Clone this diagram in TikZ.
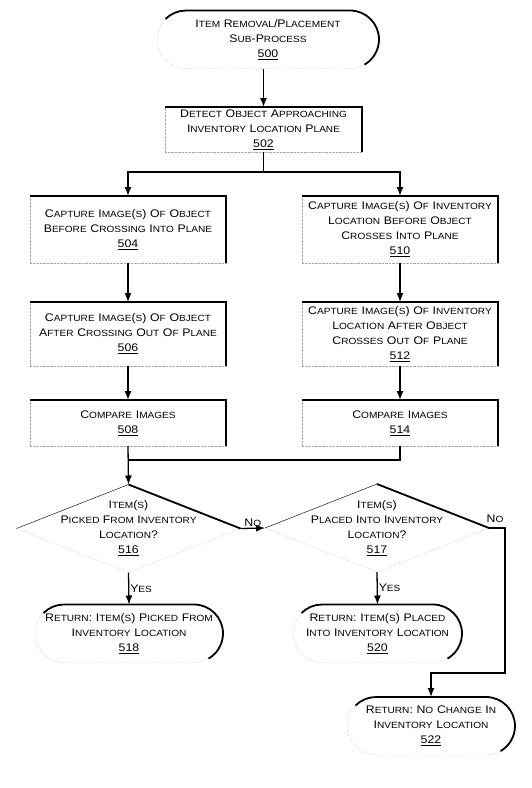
\documentclass[tikz,border=0pt]{standalone}
\usepackage{fontspec}
\setmainfont{Liberation Sans}[FakeStretch=1.12]
\usetikzlibrary{positioning}
\usetikzlibrary{shapes,arrows.meta,shapes.geometric,calc}
\tikzset{
    %Define standard arrow tip
    >={Latex[length=9pt,width=7pt]},
    % Define arrow style
    pil/.style={
           ->,
           color=black,
           line width=1.3pt,},
    % Define plain connector
    wire/.style={
           color=black,
           line width=1.3pt,},
    % Define shaded box edge
    heavyedge/.style={
           color=black,
           line width=1.8pt,}
}
\newcommand{\sm}[1]{{\fontsize{9pt}{15pt}\selectfont #1}}
\newcommand{\boxwidth}{196pt}
\newcommand{\termtop}[1]{\draw[heavyedge] ($(#1.north west)+(8.5pt,-8.5pt)$)
    arc[start angle=135,end angle=90,radius=29pt] -- ($(#1.north east)+(-29pt,0pt)$)
    arc[start angle=90,end angle=-60,radius=29pt];}

\begin{document}
\begin{tikzpicture}[x=1pt, y=1pt, node distance=0pt, outer sep=0pt,
    font=\fontsize{11pt}{15pt}\selectfont]
\tikzstyle{basicbox}=[draw=gray!70, densely dotted, thin, fill=white, rectangle,
    minimum width=\boxwidth, text width=192pt, inner sep=2pt, align=center]
%
\tikzstyle{termbox}=[draw=gray!70, densely dotted, thin, fill=white, rectangle,
    rounded corners=29pt, minimum height=58pt, inner sep=0pt, align=center]
%
\tikzstyle{decbox}=[draw=gray!70, densely dotted, thin, diamond,
    minimum width=224pt, minimum height=88pt, inner sep=0pt]
%
\tikzstyle{dectext}=[align=center, inner sep=0pt]
\tikzstyle{lbl}=[inner sep=1.5pt]

\useasboundingbox (0pt,0pt) rectangle (531pt,-788pt);

\node[termbox, minimum width=222pt, text width=210pt] (start) at (268pt,-39.5pt)
    {I\sm{TEM} R\sm{EMOVAL}/P\sm{LACEMENT}\\ S\sm{UB}-P\sm{ROCESS}\\ \underline{500}};
\node[basicbox, minimum width=197pt, minimum height=45pt] (detect) at (263.5pt,-129.5pt)
    {D\sm{ETECT} O\sm{BJECT} A\sm{PPROACHING}\\ I\sm{NVENTORY} L\sm{OCATION} P\sm{LANE}\\ \underline{502}};

\node[basicbox, minimum height=67pt] (cap504) at (128pt,-229.5pt)
    {C\sm{APTURE} I\sm{MAGE}(\sm{S}) O\sm{F} O\sm{BJECT}\\ B\sm{EFORE} C\sm{ROSSING} I\sm{NTO} P\sm{LANE}\\ \underline{504}};
\node[basicbox, minimum height=64pt] (cap506) at (128pt,-334pt)
    {C\sm{APTURE} I\sm{MAGE}(\sm{S}) O\sm{F} O\sm{BJECT}\\ A\sm{FTER} C\sm{ROSSING} O\sm{UT} O\sm{F} P\sm{LANE}\\ \underline{506}};
\node[basicbox, minimum height=46pt] (cmp508) at (128pt,-423pt)
    {C\sm{OMPARE} I\sm{MAGES}\\ \underline{508}};

\node[basicbox, minimum height=67pt] (cap510) at (400pt,-229.5pt)
    {C\sm{APTURE} I\sm{MAGE}(\sm{S}) O\sm{F} I\sm{NVENTORY}\\ L\sm{OCATION} B\sm{EFORE} O\sm{BJECT}\\ C\sm{ROSSES} I\sm{NTO} P\sm{LANE}\\ \underline{510}};
\node[basicbox, minimum height=64pt] (cap512) at (400pt,-334pt)
    {C\sm{APTURE} I\sm{MAGE}(\sm{S}) O\sm{F} I\sm{NVENTORY}\\ L\sm{OCATION} A\sm{FTER} O\sm{BJECT}\\ C\sm{ROSSES} O\sm{UT} O\sm{F} P\sm{LANE}\\ \underline{512}};
\node[basicbox, minimum height=46pt] (cmp514) at (400pt,-423pt)
    {C\sm{OMPARE} I\sm{MAGES}\\ \underline{514}};

\node[decbox] (dec516) at (128.5pt,-528.5pt) {};
\node[dectext] (q516) at (dec516.center)
    {I\sm{TEM}(\sm{S})\\ P\sm{ICKED} F\sm{ROM} I\sm{NVENTORY}\\ L\sm{OCATION}?\\ \underline{516}};
\node[decbox] (dec517) at (377pt,-528pt) {};
\node[dectext] (q517) at (dec517.center)
    {I\sm{TEM}(\sm{S})\\ P\sm{LACED} I\sm{NTO} I\sm{NVENTORY}\\ L\sm{OCATION}?\\ \underline{517}};

\node[termbox, minimum width=188pt, text width=186pt] (ret518) at (129pt,-633.5pt)
    {R\sm{ETURN}: I\sm{TEM}(\sm{S}) P\sm{ICKED} F\sm{ROM}\\ I\sm{NVENTORY} L\sm{OCATION}\\ \underline{518}};
\node[termbox, minimum width=169pt, text width=167pt] (ret520) at (377.5pt,-633.5pt)
    {R\sm{ETURN}: I\sm{TEM}(\sm{S}) P\sm{LACED}\\ I\sm{NTO} I\sm{NVENTORY} L\sm{OCATION}\\ \underline{520}};
\node[termbox, minimum width=168pt, text width=166pt] (ret522) at (431pt,-726pt)
    {R\sm{ETURN}: N\sm{O} C\sm{HANGE} I\sm{N}\\ I\sm{NVENTORY} L\sm{OCATION}\\ \underline{522}};

% heavy top and right edges
\foreach \n in {detect,cap504,cap506,cmp508,cap510,cap512,cmp514}
    \draw[heavyedge] (\n.north west) -- (\n.north east) -- (\n.south east);
\foreach \n in {start,ret518,ret520,ret522}{
    \termtop{\n}
}
\foreach \n in {dec516,dec517}{
    \draw[heavyedge] (\n.north) -- (\n.east);
    \draw[black, thin] (\n.west) -- (\n.north);
}

\coordinate (split) at (263.5pt,-172pt);
\coordinate (merge) at (128pt,-460pt);
\coordinate (nocorner) at (505pt,-673pt);

\draw[pil] (start.south -| detect.north) -- (detect.north);
\draw[wire] (detect.south) -- (split);
\draw[pil] (split) -| (cap504.north);
\draw[pil] (split) -| (cap510.north);
\draw[pil] (cap504) -- (cap506);
\draw[pil] (cap506) -- (cmp508);
\draw[pil] (cap510) -- (cap512);
\draw[pil] (cap512) -- (cmp514);
\draw[wire] (cmp514.south) |- (merge);
\draw[pil] (cmp508.south) -- (dec516.north);

\draw[pil] (dec516.east) -- (dec517.west) node[lbl, midway, above] (no516) {N\sm{O}};
\draw[pil] (dec516.south) -- (ret518.north) node[lbl, midway, right] (yes516) {Y\sm{ES}};
\draw[pil] (dec517.south) -- (ret520.north) node[lbl, midway, right] (yes517) {Y\sm{ES}};
\draw[pil] (dec517.east) -| (nocorner) -| (ret522.north);
\node[lbl] (no517) at (495pt,-519pt) {N\sm{O}};

\end{tikzpicture}
\end{document}
